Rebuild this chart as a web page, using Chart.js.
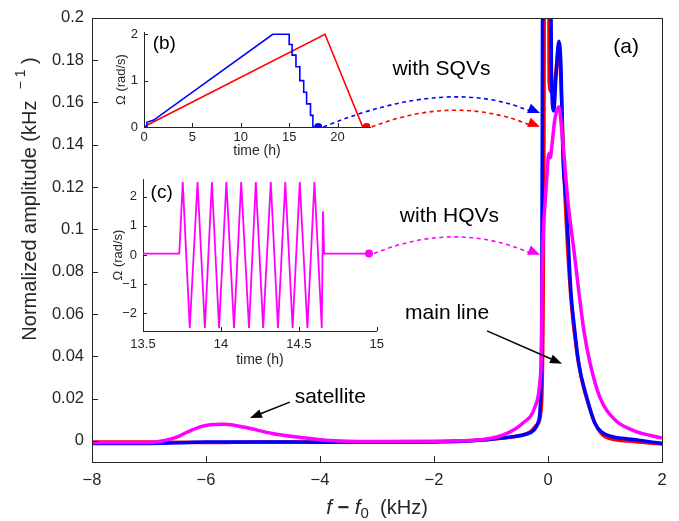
<!DOCTYPE html>
<html>
<head>
<meta charset="utf-8">
<script src="https://cdn.jsdelivr.net/npm/chart.js@4/dist/chart.umd.min.js"></script>
<style>
  body { margin: 0; background: #fff; }
  #wrap { position: relative; width: 679px; height: 521px; }
  canvas { position: absolute; }
  #main { left: 0; top: 0; }
  #insetB { left: 100px; top: 18px; }
  #insetC { left: 100px; top: 165px; }
</style>
</head>
<body>
<div id="wrap">
  <canvas id="main" width="679" height="521"></canvas>
  <canvas id="insetB" width="290" height="145"></canvas>
  <canvas id="insetC" width="290" height="205"></canvas>
</div>
<script>
// --- main panel (a): NMR spectra, f - f0 in kHz ---
const freqTicks = [-8, -6, -4, -2, 0, 2];
const ampTicks = [0, 0.02, 0.04, 0.06, 0.08, 0.1, 0.12, 0.14, 0.16, 0.18, 0.2];

const sqvRedFreq = [-8, -7, -6, -5, -4, -3, -2, -1.5, -1, -0.5, -0.3, -0.2, -0.12, -0.09, -0.07, -0.06, 0, 0.02, 0.06, 0.12, 0.19, 0.24, 0.3, 0.4, 0.5, 0.6, 0.7, 0.85, 1, 1.5, 2];
const sqvRedAmp  = [-0.0005, -0.0006, -0.0008, -0.0005, -0.0006, -0.0006, -0.0004, 0, 0.0008, 0.0025, 0.0045, 0.0075, 0.015, 0.05, 0.15, 0.32, 0.32, 0.17, 0.165, 0.17, 0.186, 0.16, 0.115, 0.068, 0.043, 0.028, 0.018, 0.007, 0.002, -0.0003, -0.0015];

const sqvBlueFreq = [-8, -7, -6, -5, -4, -3, -2, -1.5, -1, -0.6, -0.4, -0.25, -0.17, -0.13, -0.11, -0.1, -0.09, 0.03, 0.06, 0.1, 0.14, 0.19, 0.23, 0.26, 0.28, 0.32, 0.4, 0.47, 0.54, 0.68, 0.82, 0.95, 1.1, 1.5, 2];
const sqvBlueAmp  = [-0.0012, -0.0012, -0.0006, -0.0005, -0.0007, -0.0007, -0.0005, -0.0002, 0.0008, 0.002, 0.003, 0.005, 0.009, 0.02, 0.06, 0.15, 0.3, 0.3, 0.175, 0.156, 0.172, 0.189, 0.175, 0.136, 0.125, 0.113, 0.071, 0.052, 0.0365, 0.0206, 0.0084, 0.004, 0.0022, 0.0006, -0.0012];

const hqvFreq = [-8, -7, -6.8, -6.54, -6.3, -6.02, -5.67, -5.32, -4.84, -4.37, -3.91, -3, -2, -1.14, -0.72, -0.44, -0.23, -0.14, -0.11, -0.105, -0.08, -0.05, -0.02, 0, 0.02, 0.04, 0.07, 0.12, 0.19, 0.26, 0.35, 0.46, 0.54, 0.63, 0.74, 0.91, 1.18, 1.49, 1.8, 2];
const hqvAmp  = [-0.0008, -0.0008, -0.0002, 0.0015, 0.0045, 0.0072, 0.0078, 0.0064, 0.0035, 0.0017, 0.0003, -0.0003, -0.0002, 0.0006, 0.0035, 0.0084, 0.016, 0.0286, 0.05, 0.0707, 0.1, 0.113, 0.125, 0.133, 0.136, 0.134, 0.14, 0.152, 0.158, 0.141, 0.113, 0.089, 0.0707, 0.052, 0.0365, 0.0206, 0.0098, 0.005, 0.0025, 0.0013];

// --- inset (b): rotation protocols, time in h, Omega in rad/s ---
const rampTicksX = [0, 5, 10, 15, 20];
const rampTicksY = [0, 1, 2];
const rampBlueTime  = [0, 0.3, 0.3, 1, 13.3, 15, 15, 15.3, 15.3, 15.7, 15.7, 16.1, 16.1, 16.5, 16.5, 16.8, 16.8, 17.2, 17.2, 17.45, 17.45, 18];
const rampBlueOmega = [0, 0, 0.1, 0.15, 2, 2, 1.78, 1.78, 1.55, 1.55, 1.3, 1.3, 1, 1, 0.75, 0.75, 0.5, 0.5, 0.25, 0.25, 0, 0];
const rampRedTime  = [0, 0.4, 18.7, 22.6, 23];
const rampRedOmega = [0, 0.05, 2, 0, 0];

// --- inset (c): oscillating rotation ---
const pulseTicksX = [13.5, 14, 14.5, 15];
const pulseTicksY = [-2, -1, 0, 1, 2];
const pulseTime  = [13.5, 13.733, 13.755, 13.8, 13.85, 13.897, 13.942, 13.988, 14.035, 14.084, 14.13, 14.18, 14.224, 14.271, 14.32, 14.366, 14.413, 14.46, 14.506, 14.555, 14.6, 14.647, 14.655, 14.662, 14.95];
const pulseOmega = [0.05, 0.05, 2.5, -2.5, 2.5, -2.5, 2.5, -2.5, 2.5, -2.5, 2.5, -2.5, 2.5, -2.5, 2.5, -2.5, 2.5, -2.5, 2.5, -2.5, 2.5, -2.5, 1.5, 0.05, 0.05];

const RED = '#ff0000', BLUE = '#0000ff', MAGENTA = '#ff00ff', INK = '#262626';
const FONT = '"Liberation Sans", Arial, Helvetica, sans-serif';
Chart.defaults.font.family = FONT;
Chart.defaults.color = INK;

const pts = (xs, ys) => xs.map((x, i) => ({ x: x, y: ys[i] }));
const lastPt = (xs, ys) => [{ x: xs[xs.length - 1], y: ys[ys.length - 1] }];
const fmt = v => String(+(+v).toFixed(3)).replace('-', '\u2212');

function inwardTicks(ctx, chart, len) {
  const { chartArea: a, scales: { x, y } } = chart;
  ctx.strokeStyle = INK;
  ctx.lineWidth = 1;
  ctx.beginPath();
  x.ticks.forEach(t => {
    const px = Math.round(x.getPixelForValue(t.value)) + 0.5;
    ctx.moveTo(px, a.bottom);
    ctx.lineTo(px, a.bottom - len);
  });
  y.ticks.forEach(t => {
    const py = Math.round(y.getPixelForValue(t.value)) + 0.5;
    ctx.moveTo(a.left, py);
    ctx.lineTo(a.left + len, py);
  });
  ctx.stroke();
}

function arrowHead(ctx, fromX, fromY, toX, toY, len, half, color) {
  const ang = Math.atan2(toY - fromY, toX - fromX);
  ctx.fillStyle = color;
  ctx.beginPath();
  ctx.moveTo(toX, toY);
  ctx.lineTo(toX - len * Math.cos(ang) + half * Math.sin(ang), toY - len * Math.sin(ang) - half * Math.cos(ang));
  ctx.lineTo(toX - len * Math.cos(ang) - half * Math.sin(ang), toY - len * Math.sin(ang) + half * Math.cos(ang));
  ctx.closePath();
  ctx.fill();
}

// ---------- insets ----------
function insetPlugin(label, lx, ly) {
  return {
    id: 'insetDecor',
    afterDatasetsDraw(chart) {
      const ctx = chart.ctx;
      ctx.save();
      inwardTicks(ctx, chart, 4);
      ctx.fillStyle = '#000';
      ctx.font = '19px ' + FONT;
      ctx.textAlign = 'center';
      ctx.textBaseline = 'middle';
      ctx.fillText(label, chart.scales.x.getPixelForValue(lx), chart.scales.y.getPixelForValue(ly));
      ctx.restore();
    }
  };
}

function insetOptions(o) {
  return {
    responsive: false,
    animation: false,
    events: [],
    layout: { padding: o.pad },
    plugins: { legend: { display: false }, tooltip: { enabled: false } },
    scales: {
      x: {
        type: 'linear', min: o.xMin, max: o.xMax,
        afterBuildTicks: s => { s.ticks = o.xTicks.map(v => ({ value: v })); },
        afterFit: s => { s.height = o.xHeight; },
        grid: { drawOnChartArea: false, drawTicks: false },
        border: { color: INK },
        ticks: { autoSkip: false, maxRotation: 0, padding: o.xPad, color: INK, font: { size: 13 }, callback: fmt },
        title: { display: true, text: 'time (h)', color: INK, font: { size: 14, weight: 'normal' }, padding: { top: 0, bottom: o.xTitlePad } }
      },
      y: {
        type: 'linear', min: o.yMin, max: o.yMax,
        afterBuildTicks: s => { s.ticks = o.yTicks.map(v => ({ value: v })); },
        afterFit: s => { s.width = o.yWidth; },
        grid: { drawOnChartArea: false, drawTicks: false },
        border: { color: INK },
        ticks: { autoSkip: false, padding: 6, color: INK, font: { size: 13 }, callback: fmt },
        title: { display: true, text: '\u03A9 (rad/s)', color: INK, font: { size: 13, weight: 'normal' }, padding: { top: o.yTitlePad, bottom: 0 } }
      }
    }
  };
}

const insetB = new Chart(document.getElementById('insetB'), {
  type: 'line',
  data: {
    datasets: [
      { data: lastPt(rampBlueTime, rampBlueOmega), showLine: false, pointRadius: 4, pointBackgroundColor: BLUE, pointBorderWidth: 0 },
      { data: lastPt(rampRedTime, rampRedOmega), showLine: false, pointRadius: 4, pointBackgroundColor: RED, pointBorderWidth: 0 },
      { data: pts(rampBlueTime, rampBlueOmega), borderColor: BLUE, borderWidth: 1.6, pointRadius: 0, tension: 0 },
      { data: pts(rampRedTime, rampRedOmega), borderColor: RED, borderWidth: 1.6, pointRadius: 0, tension: 0 }
    ]
  },
  options: insetOptions({
    pad: { left: 0, right: 20, top: 14, bottom: 0 },
    xMin: 0, xMax: 23.35, yMin: 0, yMax: 2.05,
    xTicks: rampTicksX, yTicks: rampTicksY,
    xHeight: 36, yWidth: 44, xPad: 3, xTitlePad: 3, yTitlePad: 14
  }),
  plugins: [insetPlugin('(b)', 2.1, 1.8)]
});

const insetC = new Chart(document.getElementById('insetC'), {
  type: 'line',
  data: {
    datasets: [
      { data: lastPt(pulseTime, pulseOmega), showLine: false, pointRadius: 4, pointBackgroundColor: MAGENTA, pointBorderWidth: 0 },
      { data: pts(pulseTime, pulseOmega), borderColor: MAGENTA, borderWidth: 1.8, pointRadius: 0, tension: 0 }
    ]
  },
  options: insetOptions({
    pad: { left: 0, right: 11, top: 14, bottom: 0 },
    xMin: 13.5, xMax: 15, yMin: -2.6, yMax: 2.6,
    xTicks: pulseTicksX, yTicks: pulseTicksY,
    xHeight: 39, yWidth: 43, xPad: 6, xTitlePad: 1, yTitlePad: 11
  }),
  plugins: [insetPlugin('(c)', 13.62, 2.12)]
});

// ---------- main panel ----------
function insetDot(chart, canvasId, datasetIndex) {
  const c = document.getElementById(canvasId);
  const p = chart.data.datasets[datasetIndex].data[0];
  return {
    x: c.offsetLeft + chart.scales.x.getPixelForValue(p.x),
    y: c.offsetTop + chart.scales.y.getPixelForValue(p.y)
  };
}

const mainDecor = {
  id: 'mainDecor',
  afterDatasetsDraw(chart) {
    const { ctx, chartArea: a, scales: { x, y } } = chart;
    const px = v => x.getPixelForValue(v), py = v => y.getPixelForValue(v);
    ctx.save();

    // box and inward ticks
    ctx.strokeStyle = INK;
    ctx.lineWidth = 1;
    ctx.strokeRect(Math.round(a.left) + 0.5, Math.round(a.top) + 0.5, Math.round(a.right - a.left), Math.round(a.bottom - a.top));
    inwardTicks(ctx, chart, 6);

    // dashed arrows from the inset end points to the spectra
    const links = [
      { from: insetDot(insetB, 'insetB', 0), c: [-1.72, 0.1728], to: [-0.14, 0.155], color: BLUE },
      { from: insetDot(insetB, 'insetB', 1), c: [-1.61, 0.164], to: [-0.14, 0.1485], color: RED },
      { from: insetDot(insetC, 'insetC', 0), c: [-1.61, 0.1044], to: [-0.14, 0.088], color: MAGENTA }
    ];
    links.forEach(l => {
      const cx = px(l.c[0]), cy = py(l.c[1]), tx = px(l.to[0]), ty = py(l.to[1]);
      ctx.strokeStyle = l.color;
      ctx.lineWidth = 1.6;
      ctx.setLineDash([4, 3.5]);
      ctx.beginPath();
      ctx.moveTo(l.from.x + 5, l.from.y);
      ctx.quadraticCurveTo(cx, cy, tx - 8, ty - 1);
      ctx.stroke();
      ctx.setLineDash([]);
      arrowHead(ctx, cx, cy, tx, ty, 12, 5, l.color);
    });

    // black arrows
    const arrows = [
      { from: [-1.07, 0.052], to: [0.246, 0.0365] },
      { from: [-4.53, 0.0183], to: [-5.23, 0.0108] }
    ];
    arrows.forEach(r => {
      const x0 = px(r.from[0]), y0 = py(r.from[1]), x1 = px(r.to[0]), y1 = py(r.to[1]);
      const ang = Math.atan2(y1 - y0, x1 - x0);
      ctx.strokeStyle = '#000';
      ctx.lineWidth = 1.5;
      ctx.beginPath();
      ctx.moveTo(x0, y0);
      ctx.lineTo(x1 - 8 * Math.cos(ang), y1 - 8 * Math.sin(ang));
      ctx.stroke();
      arrowHead(ctx, x0, y0, x1, y1, 12, 4.5, '#000');
    });

    // text labels
    ctx.fillStyle = '#000';
    ctx.font = '21px ' + FONT;
    ctx.textAlign = 'center';
    ctx.textBaseline = 'middle';
    const labels = [
      ['with SQVs', -1.87, 0.1756],
      ['with HQVs', -1.73, 0.1063],
      ['main line', -1.77, 0.0604],
      ['satellite', -3.82, 0.0206],
      ['(a)', 1.37, 0.186]
    ];
    labels.forEach(t => ctx.fillText(t[0], px(t[1]), py(t[2])));

    // y title with superscript
    ctx.save();
    ctx.translate(30, 199);
    ctx.rotate(-Math.PI / 2);
    ctx.fillStyle = INK;
    ctx.textAlign = 'left';
    const big = '20px ' + FONT, small = '14px ' + FONT;
    ctx.font = big;
    const t1 = 'Normalized amplitude (kHz  ', t3 = ' )';
    const w1 = ctx.measureText(t1).width, w3 = ctx.measureText(t3).width;
    ctx.font = small;
    const sup = '\u2212 1', ws = ctx.measureText(sup).width;
    let s = -(w1 + ws + w3) / 2;
    ctx.font = big; ctx.fillText(t1, s, 0); s += w1;
    ctx.font = small; ctx.fillText(sup, s, -9); s += ws;
    ctx.font = big; ctx.fillText(t3, s, 0);
    ctx.restore();

    // x title: f - f0 (kHz)
    const parts = [
      ['f', 'italic 21px ' + FONT, 0],
      [' \u2212 ', 'bold 20px ' + FONT, 0],
      ['f', 'italic 21px ' + FONT, 0],
      ['0', '15px ' + FONT, 4],
      ['  (kHz)', '20px ' + FONT, 0]
    ];
    let tw = 0;
    parts.forEach(p => { ctx.font = p[1]; tw += ctx.measureText(p[0]).width; });
    let xx = 377 - tw / 2;
    ctx.fillStyle = INK;
    ctx.textAlign = 'left';
    ctx.textBaseline = 'alphabetic';
    parts.forEach(p => { ctx.font = p[1]; ctx.fillText(p[0], xx, 514 + p[2]); xx += ctx.measureText(p[0]).width; });

    ctx.restore();
  }
};

new Chart(document.getElementById('main'), {
  type: 'line',
  data: {
    datasets: [
      { label: 'with HQVs', data: pts(hqvFreq, hqvAmp), borderColor: MAGENTA, borderWidth: 3.5, pointRadius: 0, cubicInterpolationMode: 'monotone' },
      { label: 'with SQVs (blue)', data: pts(sqvBlueFreq, sqvBlueAmp), borderColor: BLUE, borderWidth: 3.5, pointRadius: 0, cubicInterpolationMode: 'monotone' },
      { label: 'with SQVs (red)', data: pts(sqvRedFreq, sqvRedAmp), borderColor: RED, borderWidth: 3.5, pointRadius: 0, cubicInterpolationMode: 'monotone' }
    ]
  },
  options: {
    responsive: false,
    animation: false,
    events: [],
    layout: { padding: { left: 0, right: 17, top: 14, bottom: 0 } },
    plugins: { legend: { display: false }, tooltip: { enabled: false } },
    scales: {
      x: {
        type: 'linear', min: -8, max: 2,
        afterBuildTicks: s => { s.ticks = freqTicks.map(v => ({ value: v })); },
        afterFit: s => { s.height = 59; },
        grid: { drawOnChartArea: false, drawTicks: false },
        border: { display: false },
        ticks: { autoSkip: false, maxRotation: 0, padding: 9, color: INK, font: { size: 16.5 }, callback: fmt },
        title: { display: false, text: 'f \u2212 f0 (kHz)' }
      },
      y: {
        type: 'linear', min: -0.01, max: 0.2,
        afterBuildTicks: s => { s.ticks = ampTicks.map(v => ({ value: v })); },
        afterFit: s => { s.width = 92; },
        grid: { drawOnChartArea: false, drawTicks: false },
        border: { display: false },
        ticks: { autoSkip: false, padding: 8, color: INK, font: { size: 16.5 }, callback: fmt },
        title: { display: false, text: 'Normalized amplitude (kHz\u207B\u00B9)' }
      }
    }
  },
  plugins: [mainDecor]
});
</script>
</body>
</html>
